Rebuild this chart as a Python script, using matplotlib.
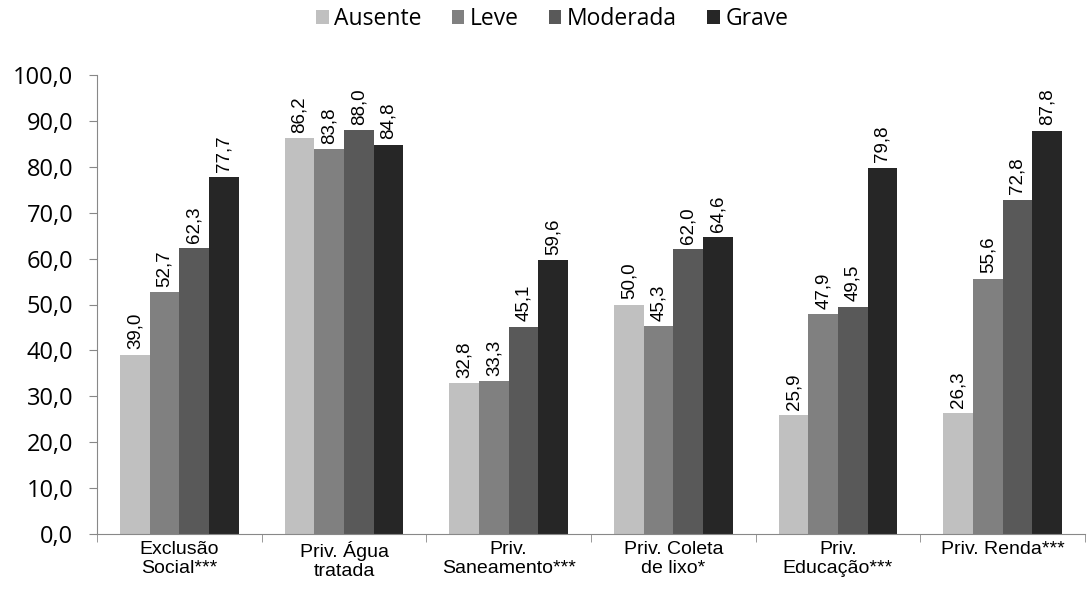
import matplotlib
matplotlib.use("Agg")
import matplotlib.pyplot as plt
import numpy as np

categories = ["Exclusão\nSocial***", "Priv. Água\ntratada", "Priv.\nSaneamento***",
              "Priv. Coleta\nde lixo*", "Priv.\nEducação***", "Priv. Renda***"]
series = ["Ausente", "Leve", "Moderada", "Grave"]
ausente = [39.0, 86.2, 32.8, 50.0, 25.9, 26.3]
leve = [52.7, 83.8, 33.3, 45.3, 47.9, 55.6]
moderada = [62.3, 88.0, 45.1, 62.0, 49.5, 72.8]
grave = [77.7, 84.8, 59.6, 64.6, 79.8, 87.8]
colors = ["#c0c0c0", "#808080", "#595959", "#262626"]

fig = plt.figure(figsize=(10.87, 6.12), dpi=100)
ax = fig.add_axes([97/1087, 78/612, 988/1087, 459/612])

x = np.arange(len(categories))
w = 0.18
for i, (name, vals) in enumerate(zip(series, [ausente, leve, moderada, grave])):
    pos = x + (i - 1.5) * w
    ax.bar(pos, vals, w, color=colors[i], label=name)
    for p, v in zip(pos, vals):
        ax.text(p, v + 1.2, f"{v:.1f}".replace(".", ","), rotation=90,
                ha="center", va="bottom", fontsize=13.5, family="Liberation Sans")

ax.set_xlim(-0.5, len(categories) - 0.5)
ax.set_ylim(0, 100)
ax.set_yticks(np.arange(0, 101, 10))
ax.set_yticklabels([f"{t:.1f}".replace(".", ",") for t in np.arange(0, 101, 10)],
                   fontsize=17, family="Open Sans")
ax.set_xticks(x)
ax.set_xticklabels(categories, fontsize=14, family="Liberation Sans", linespacing=1.15)
ax.set_xticks(np.arange(-0.5, len(categories), 1), minor=True)
ax.tick_params(axis="x", which="major", length=0, pad=5)
ax.tick_params(axis="x", which="minor", length=6, color="#888888")
ax.tick_params(axis="y", length=6, color="#888888", pad=11)
for s in ["top", "right"]:
    ax.spines[s].set_visible(False)
for s in ["left", "bottom"]:
    ax.spines[s].set_color("#888888")

fig.legend(loc="upper center", bbox_to_anchor=(0.508, 1.022), ncol=4, frameon=False,
           handlelength=0.55, handleheight=0.55, handletextpad=0.25, columnspacing=1.3,
           prop={"family": "Open Sans", "size": 16.5})

fig.savefig("out.png", dpi=100)
